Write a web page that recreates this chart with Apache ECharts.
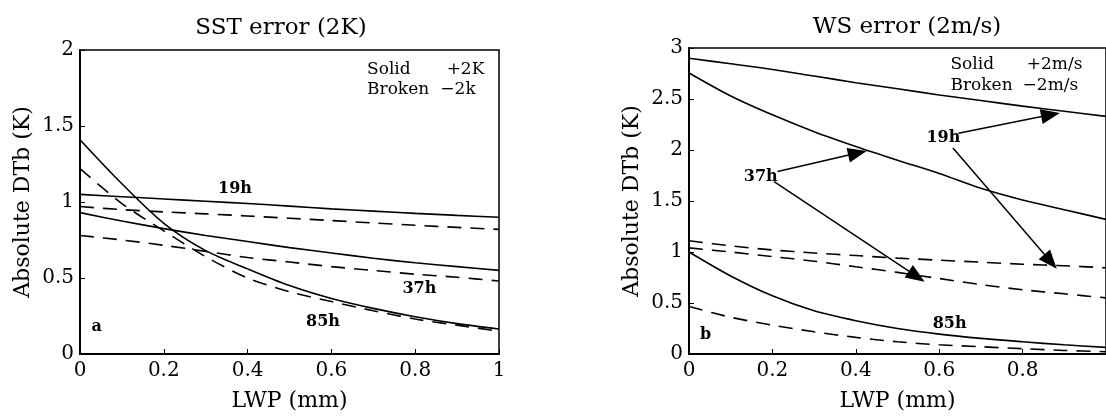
<!DOCTYPE html>
<html>
<head>
<meta charset="utf-8">
<script src="https://cdn.jsdelivr.net/npm/echarts@6/dist/echarts.min.js"></script>
<style>
  html, body { margin: 0; padding: 0; background: #fff; }
  #chart { width: 1106px; height: 417px; }
</style>
</head>
<body>
<div id="chart"></div>
<script>
// Liquid water path (mm), shared by every curve
const lwp = [0, 0.1, 0.2, 0.3, 0.4, 0.5, 0.6, 0.7, 0.8, 0.9, 1.0];

// Panel a: SST error of 2 K, absolute DTb (K)
const sst19Plus  = [1.05, 1.035, 1.02, 1.005, 0.99, 0.973, 0.955, 0.94, 0.925, 0.912, 0.90];
const sst19Minus = [0.97, 0.95, 0.935, 0.922, 0.908, 0.893, 0.878, 0.862, 0.847, 0.833, 0.82];
const sst37Plus  = [0.93, 0.875, 0.825, 0.78, 0.74, 0.70, 0.665, 0.63, 0.60, 0.575, 0.55];
const sst37Minus = [0.78, 0.75, 0.715, 0.675, 0.635, 0.605, 0.575, 0.55, 0.525, 0.505, 0.48];
const sst85Plus  = [1.41, 1.12, 0.86, 0.68, 0.56, 0.45, 0.365, 0.30, 0.245, 0.20, 0.165];
const sst85Minus = [1.22, 0.99, 0.81, 0.64, 0.50, 0.41, 0.345, 0.285, 0.23, 0.19, 0.15];

// Panel b: wind speed error of 2 m/s, absolute DTb (K)
const ws19Plus  = [2.90, 2.845, 2.79, 2.725, 2.66, 2.60, 2.54, 2.485, 2.43, 2.38, 2.33];
const ws19Minus = [1.11, 1.06, 1.02, 0.99, 0.965, 0.94, 0.92, 0.90, 0.88, 0.865, 0.845];
const ws37Plus  = [2.755, 2.53, 2.345, 2.18, 2.035, 1.90, 1.77, 1.625, 1.51, 1.415, 1.32];
const ws37Minus = [1.04, 1.00, 0.955, 0.91, 0.855, 0.80, 0.74, 0.68, 0.63, 0.59, 0.55];
const ws85Plus  = [1.00, 0.765, 0.57, 0.423, 0.326, 0.25, 0.195, 0.153, 0.12, 0.09, 0.065];
const ws85Minus = [0.466, 0.36, 0.283, 0.218, 0.163, 0.12, 0.09, 0.071, 0.052, 0.035, 0.022];

// Titles and axis names
const panelTitles = ['SST error (2K)', 'WS error (2m/s)'];
const xName = 'LWP (mm)';
const yName = 'Absolute DTb (K)';
const yMax = [2, 3];

// In-plot annotations: [text, lwp, DTb]
const notesA = [
  ['19h', 0.37, 1.085], ['37h', 0.81, 0.43], ['85h', 0.58, 0.21], ['a', 0.04, 0.18]
];
const notesB = [
  ['19h', 0.61, 2.12], ['37h', 0.172, 1.74], ['85h', 0.625, 0.30], ['b', 0.04, 0.19]
];
// Key text, left aligned at [lwp, DTb]
const keyA = [
  ['Solid', 0.685, 1.87], ['+2K', 0.875, 1.87],
  ['Broken', 0.685, 1.74], ['\u22122k', 0.86, 1.74]
];
const keyB = [
  ['Solid', 0.627, 2.84], ['+2m/s', 0.81, 2.84],
  ['Broken', 0.627, 2.63], ['\u22122m/s', 0.80, 2.63]
];
// Pointer arrows in panel b: [from lwp, from DTb, to lwp, to DTb]
const arrowsB = [
  [0.2125, 1.79, 0.404, 1.97],
  [0.204, 1.69, 0.546, 0.76],
  [0.646, 2.165, 0.867, 2.345],
  [0.633, 2.02, 0.867, 0.906]
];

const FONT = 'DejaVu Serif';
const INK = '#000';

function curve(idx, ys, broken) {
  return {
    type: 'line',
    xAxisIndex: idx, yAxisIndex: idx,
    data: lwp.map((x, i) => [x, ys[i]]),
    symbol: 'none',
    smooth: 0.3,
    silent: true,
    lineStyle: { color: INK, width: 1.6, type: broken ? [14, 9] : 'solid' },
    z: 3
  };
}

// Text placed at data coordinates through the axes of the given grid
function texts(idx, list, font, align) {
  return {
    type: 'custom',
    xAxisIndex: idx, yAxisIndex: idx,
    silent: true,
    data: list.map(t => [t[1], t[2]]),
    renderItem: function (params, api) {
      const p = api.coord([api.value(0), api.value(1)]);
      return {
        type: 'text',
        x: p[0], y: p[1],
        style: {
          text: list[params.dataIndex][0],
          fill: INK,
          font: font,
          align: align,
          verticalAlign: 'middle'
        }
      };
    },
    z: 5
  };
}

function arrowSeries(idx, list) {
  return {
    type: 'line',
    xAxisIndex: idx, yAxisIndex: idx,
    data: [],
    silent: true,
    markLine: {
      silent: true,
      symbol: ['none', 'triangle'],
      symbolSize: [15, 19],
      label: { show: false },
      lineStyle: { color: INK, width: 1.5, type: 'solid' },
      itemStyle: { color: INK },
      data: list.map(a => [{ coord: [a[0], a[1]] }, { coord: [a[2], a[3]] }])
    }
  };
}

const grids = [
  { left: 80, top: 50, width: 419, height: 306 },
  { left: 689, top: 48, width: 421, height: 307 }
];

function xAxis(idx) {
  return {
    type: 'value', gridIndex: idx, min: 0, max: 1, interval: 0.2,
    name: xName, nameLocation: 'middle', nameGap: 36,
    nameTextStyle: { fontFamily: FONT, fontSize: 22, color: INK },
    axisLine: { show: true, lineStyle: { color: INK, width: 2 } },
    axisTick: { show: true, inside: true, length: 5, lineStyle: { color: INK, width: 1 } },
    axisLabel: {
      fontFamily: FONT, fontSize: 20, color: INK, margin: 7,
      showMaxLabel: idx === 0
    },
    splitLine: { show: false }
  };
}

function yAxis(idx) {
  return {
    type: 'value', gridIndex: idx, min: 0, max: yMax[idx], interval: 0.5,
    name: yName, nameLocation: 'middle', nameGap: 46,
    nameTextStyle: { fontFamily: FONT, fontSize: 22, color: INK },
    axisLine: { show: true, lineStyle: { color: INK, width: 2 } },
    axisTick: { show: true, inside: true, length: 5, lineStyle: { color: INK, width: 1 } },
    axisLabel: { fontFamily: FONT, fontSize: 20, color: INK, margin: 6 },
    splitLine: { show: false }
  };
}

const noteFont = 'bold 16px "DejaVu Serif"';
const keyFont = '17px "DejaVu Serif"';

const option = {
  backgroundColor: '#fff',
  animation: false,
  title: [
    { text: panelTitles[0], left: 276, top: 12, textAlign: 'center',
      textStyle: { fontFamily: FONT, fontSize: 23, fontWeight: 'normal', color: INK } },
    { text: panelTitles[1], left: 902, top: 11, textAlign: 'center',
      textStyle: { fontFamily: FONT, fontSize: 23, fontWeight: 'normal', color: INK } }
  ],
  grid: grids.map(g => Object.assign({ show: true, borderColor: INK, borderWidth: 1.5, backgroundColor: 'transparent' }, g)),
  xAxis: [xAxis(0), xAxis(1)],
  yAxis: [yAxis(0), yAxis(1)],
  series: [
    curve(0, sst19Plus, false), curve(0, sst19Minus, true),
    curve(0, sst37Plus, false), curve(0, sst37Minus, true),
    curve(0, sst85Plus, false), curve(0, sst85Minus, true),
    curve(1, ws19Plus, false), curve(1, ws19Minus, true),
    curve(1, ws37Plus, false), curve(1, ws37Minus, true),
    curve(1, ws85Plus, false), curve(1, ws85Minus, true),
    arrowSeries(1, arrowsB),
    texts(0, notesA, noteFont, 'center'),
    texts(1, notesB, noteFont, 'center'),
    texts(0, keyA, keyFont, 'left'),
    texts(1, keyB, keyFont, 'left')
  ]
};

const chart = echarts.init(document.getElementById('chart'), null, { renderer: 'canvas' });
chart.setOption(option);
</script>
</body>
</html>
